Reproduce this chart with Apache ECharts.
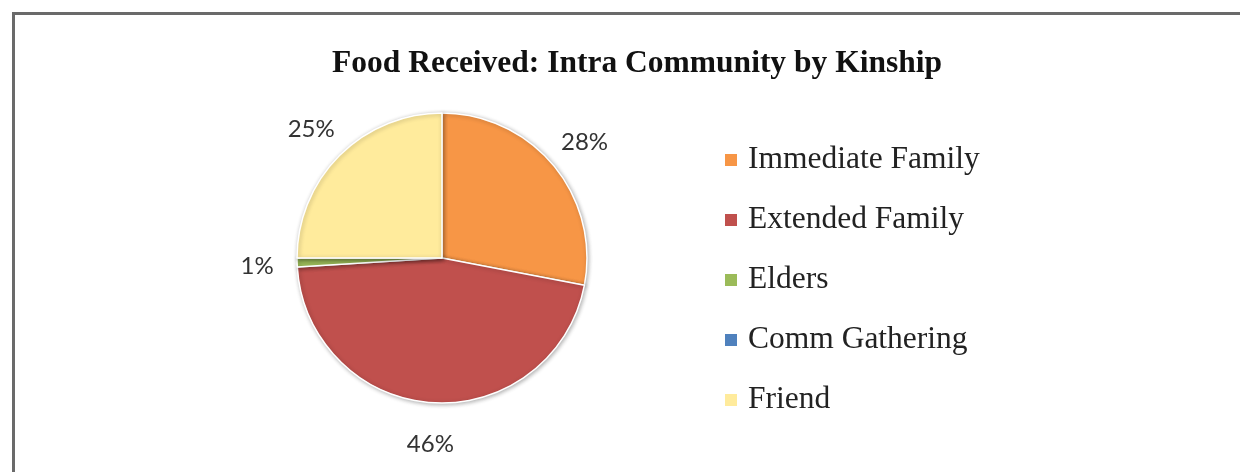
<!DOCTYPE html>
<html>
<head>
<meta charset="utf-8">
<script src="https://cdn.jsdelivr.net/npm/echarts@6/dist/echarts.min.js"></script>
<style>
html,body{margin:0;padding:0;background:#fff;}
#c{width:1240px;height:472px;}
</style>
</head>
<body>
<div id="c"></div>
<script>
const titleText = 'Food Received: Intra Community by Kinship';
const categories = ['Immediate Family', 'Extended Family', 'Elders', 'Comm Gathering', 'Friend'];
const values = [28, 46, 1, 0, 25];
const colors = ['#F79646', '#C0504D', '#9BBB59', '#4F81BD', '#FFEB9C'];

const chart = echarts.init(document.getElementById('c'), null, {renderer: 'canvas'});

const mainData = categories.map((n, i) => ({name: n, value: values[i], itemStyle: {color: colors[i]}}));
const labelData = categories.map((n, i) => ({
  name: n, value: values[i],
  itemStyle: {color: 'rgba(0,0,0,0)'},
  label: {show: values[i] > 0}
}));

chart.setOption({
  animation: false,
  backgroundColor: '#ffffff',
  title: {
    text: titleText,
    left: 632,
    textAlign: 'center',
    top: 43,
    textStyle: {fontFamily: 'Liberation Serif', fontWeight: 'bold', fontSize: 31.5, color: '#111'}
  },
  legend: {
    orient: 'vertical',
    left: 720,
    top: 139,
    itemWidth: 12,
    itemHeight: 12,
    itemGap: 28,
    icon: 'rect',
    data: categories,
    itemStyle: {borderWidth: 0, shadowBlur: 0, shadowOffsetX: 0, shadowOffsetY: 0, shadowColor: 'rgba(0,0,0,0)'},
    textStyle: {fontFamily: 'Liberation Serif', fontSize: 31.5, color: '#222', padding: [0, 0, 0, 6]}
  },
  graphic: [{
    type: 'rect',
    shape: {x: 13.5, y: 13.5, width: 1400, height: 700},
    style: {fill: 'none', stroke: '#6a6a6a', lineWidth: 3},
    silent: true
  }],
  series: [{
    type: 'pie',
    center: [442, 258],
    radius: 145,
    startAngle: 90,
    clockwise: true,
    label: {show: false},
    labelLine: {show: false},
    itemStyle: {borderColor: '#fff', borderWidth: 1.5, shadowBlur: 4, shadowColor: 'rgba(0,0,0,0.3)', shadowOffsetX: 1, shadowOffsetY: 1},
    emphasis: {disabled: true},
    data: mainData
  }, {
    type: 'pie',
    center: [442, 260],
    radius: [166, 198],
    startAngle: 90,
    clockwise: true,
    silent: true,
    legendHoverLink: false,
    label: {
      show: true,
      position: 'inside',
      rotate: 0,
      formatter: p => Math.round(p.percent) + '%',
      fontFamily: 'Lato',
      fontSize: 24,
      color: '#333'
    },
    labelLine: {show: false},
    emphasis: {disabled: true},
    data: labelData
  }]
});
</script>
</body>
</html>
